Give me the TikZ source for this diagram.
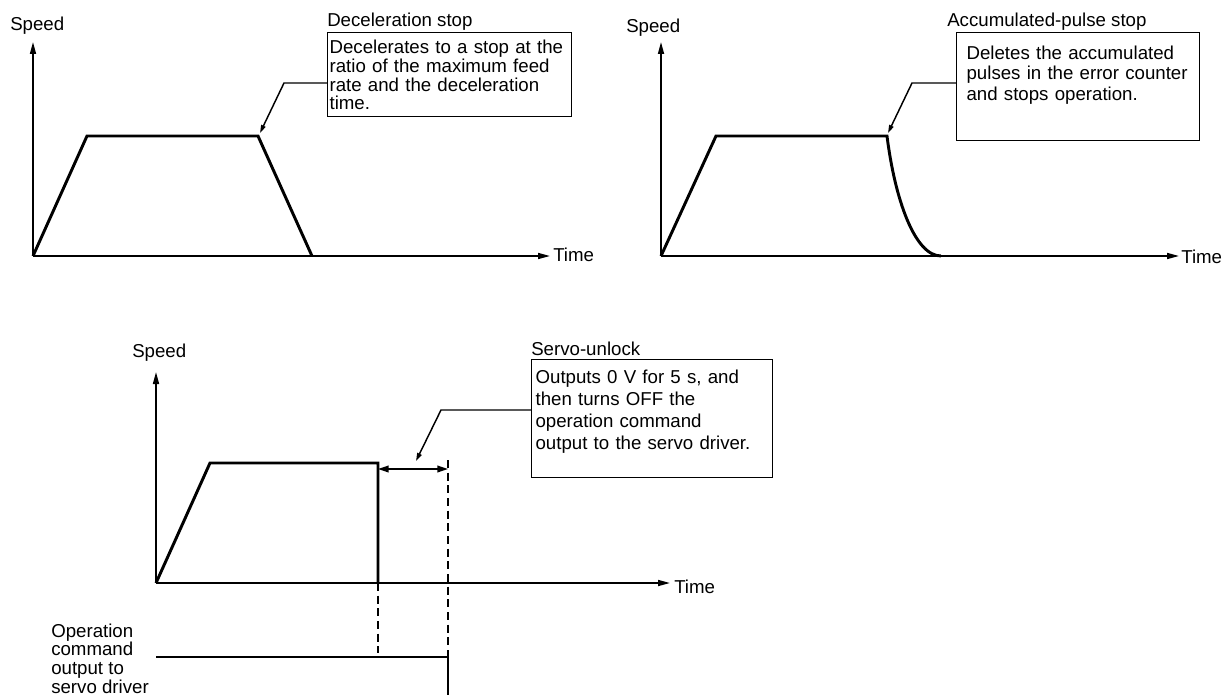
\documentclass[tikz,border=0pt]{standalone}
\usepackage{fontspec}
\setmainfont{Liberation Sans}
\usetikzlibrary{arrows.meta, positioning}

\begin{document}
\begin{tikzpicture}[
    x=0.75pt, y=-0.75pt,
    every node/.style={font=\fontsize{14}{14}\selectfont, inner sep=0pt},
    axis/.style={line width=1.2pt, -{Triangle[length=9pt, width=4.5pt]}},
    profile/.style={line width=2.2pt, line join=miter},
    note/.style={draw, line width=0.9pt, anchor=north west, align=left},
    leader/.style={line width=1.1pt, -{Triangle[length=6pt, width=3.5pt]}},
    guide/.style={line width=0.8pt, dash pattern=on 6pt off 3.5pt},
    span/.style={line width=1.2pt, {Triangle[length=8pt, width=5pt]}-{Triangle[length=8pt, width=5pt]}}
  ]
  \useasboundingbox (0,0) rectangle (1223,695);

  % deceleration stop
  \coordinate (o1) at (33,256);
  \coordinate (y1) at (33,42);
  \coordinate (x1) at (550,256);
  \coordinate (up1) at (87,136);
  \coordinate (dec1) at (258,136);
  \coordinate (end1) at (312,256);
  \node[anchor=base west] (speed1) at (10,31) {Speed};
  \node[anchor=base west] (time1) at (553,262) {Time};
  \node[note, text width=180pt, inner xsep=1.5pt, text height=15.75pt, text depth=47.25pt,
        font=\fontsize{14}{14.1}\selectfont] (decbox) at (327,32)
    {Decelerates to a stop at the\\ratio of the maximum feed\\rate and the deceleration\\time.};
  \node[anchor=base west] (dectitle) at (327,27) {Deceleration stop};
  \coordinate (decbend) at (284,83);
  \coordinate (decmark) at (260,133);

  \draw[axis] (o1) -- (y1);
  \draw[axis] (o1) -- (x1);
  \draw[profile] (o1) -- (up1) -- (dec1) -- (end1);
  \draw[leader] (decbox.west |- decbend) -- (decbend) -- (decmark);

  % accumulated-pulse stop
  \coordinate (o2) at (661,256);
  \coordinate (y2) at (661,42);
  \coordinate (x2) at (1179,256);
  \coordinate (up2) at (716,136);
  \coordinate (dec2) at (887,136);
  \coordinate (end2) at (941,256);
  \node[anchor=base west] (speed2) at (626,33) {Speed};
  \node[anchor=base west] (time2) at (1181,263) {Time};
  \node[note, text width=167.25pt, inner xsep=7.5pt, text height=20.25pt, text depth=60.75pt,
        font=\fontsize{14}{15.3}\selectfont] (pulsebox) at (956,32)
    {Deletes the accumulated\\pulses in the error counter\\and stops operation.};
  \node[anchor=base west] (pulsetitle) at (947,27) {Accumulated-pulse stop};
  \coordinate (pulsebend) at (912,83);
  \coordinate (pulsemark) at (888,133);

  \draw[axis] (o2) -- (y2);
  \draw[axis] (o2) -- (x2);
  \draw[profile] (o2) -- (up2) -- (dec2) .. controls (895,200) and (915,256) .. (end2);
  \draw[leader] (pulsebox.west |- pulsebend) -- (pulsebend) -- (pulsemark);

  % servo-unlock
  \coordinate (o3) at (156,583);
  \coordinate (y3) at (156,372);
  \coordinate (x3) at (670,583);
  \coordinate (up3) at (210,463);
  \coordinate (cut3) at (378,463);
  \coordinate (stop3) at (378,583);
  \coordinate (lock3) at (448,469);
  \coordinate (opstart) at (156,657);
  \coordinate (opoff) at (448,657);
  \coordinate (opend) at (448,695);
  \node[anchor=base west] (speed3) at (132,357) {Speed};
  \node[anchor=base west] (time3) at (674,593) {Time};
  \node[note, text width=174.75pt, inner xsep=3pt, text height=18pt, text depth=70.5pt,
        font=\fontsize{14}{16.5}\selectfont] (servobox) at (531,359)
    {Outputs 0 V for 5 s, and\\then turns OFF the\\operation command\\output to the servo driver.};
  \node[anchor=base west] (servotitle) at (531,355) {Servo-unlock};
  \node[anchor=base west, align=left, font=\fontsize{14}{13.9}\selectfont] (oplabel) at (51,693)
    {Operation\\command\\output to\\servo driver};
  \coordinate (servobend) at (441,410);
  \coordinate (servomark) at (416,461);

  \draw[axis] (o3) -- (y3);
  \draw[axis] (o3) -- (x3);
  \draw[profile] (o3) -- (up3) -- (cut3) -- (stop3);
  \draw[guide] (stop3) -- (378,653);
  \draw[guide] (lock3 |- 0,460) -- (opoff);
  \draw[span] (cut3 |- lock3) -- (lock3);
  \draw[leader] (servobox.west |- servobend) -- (servobend) -- (servomark);
  \draw[profile] (opstart) -- (opoff) -- (opend);
\end{tikzpicture}
\end{document}
